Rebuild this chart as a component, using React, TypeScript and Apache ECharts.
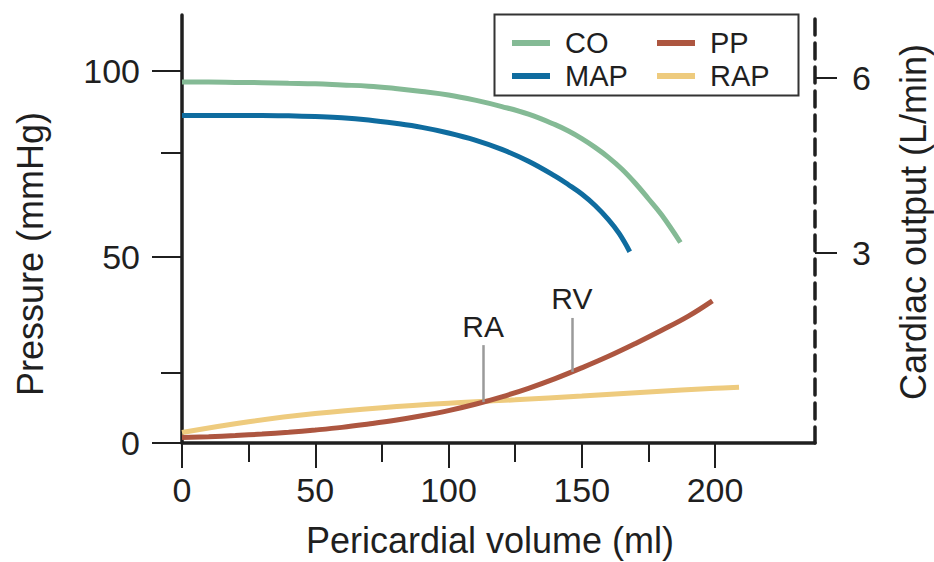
import React, { useEffect, useRef } from "react";
import * as echarts from "echarts";

// ---- data ----
const coVolume = [0, 10, 20, 30, 40, 50, 60, 70, 80, 90, 100, 110, 120, 130, 140, 145, 150, 155, 160, 165, 170, 175, 180, 187];
const coValues = [5.93, 5.93, 5.925, 5.92, 5.91, 5.9, 5.88, 5.86, 5.82, 5.77, 5.71, 5.62, 5.51, 5.38, 5.2, 5.09, 4.96, 4.81, 4.64, 4.44, 4.2, 3.93, 3.65, 3.18]; // L/min

const mapVolume = [0, 10, 20, 30, 40, 50, 60, 70, 80, 90, 100, 110, 120, 130, 140, 145, 150, 155, 160, 164, 168];
const mapValues = [88, 88, 88, 88, 87.9, 87.7, 87.4, 86.8, 85.9, 84.8, 83.3, 81.4, 78.9, 75.7, 71.7, 69.4, 66.9, 63.8, 60.0, 56.3, 51.4]; // mmHg

const ppVolume = [0, 10, 20, 30, 40, 50, 60, 70, 80, 90, 100, 110, 120, 130, 140, 150, 160, 170, 180, 190, 199];
const ppValues = [1.5, 1.7, 2.0, 2.4, 2.9, 3.5, 4.2, 5.1, 6.1, 7.3, 8.7, 10.4, 12.4, 14.7, 17.3, 20.2, 23.3, 26.7, 30.3, 34.1, 38.2];

const rapVolume = [0, 25, 50, 75, 100, 125, 150, 175, 200, 209];
const rapValues = [2.8, 5.7, 7.9, 9.5, 10.7, 11.6, 12.6, 13.7, 14.7, 15.0];

const xMajorTicks = [0, 50, 100, 150, 200];
const xMinorTicks = [25, 75, 125, 175];
const yMajorTicks = [0, 50, 100];
const yMinorTicks = [19, 78];
const coTicks = [3, 6];

// annotations: [label, volume, bottom value, top value]
const markers: [string, number, number, number][] = [
  ["RA", 113, 11.0, 26.3],
  ["RV", 146.3, 19.1, 33.6],
];

const X_MAX = 237.5;
const Y_MAX = 115;
const CO_MIN = -0.257;
const CO_MAX = 7.08;

const FONT = '"Liberation Sans", Arial, Helvetica, sans-serif';
const INK = "#1f1f1f";

const pairs = (xs: number[], ys: number[]) => xs.map((x, i) => [x, ys[i]]);

export default function App() {
  const ref = useRef<HTMLDivElement>(null);
  useEffect(() => {
    if (!ref.current) return;
    const chart = echarts.init(ref.current, null, { renderer: "svg" });
    const lineBase = {
      type: "line" as const,
      showSymbol: false,
      smooth: 0.4,
      xAxisIndex: 0,
    };
    chart.setOption({
      animation: false,
      backgroundColor: "#ffffff",
      textStyle: { fontFamily: FONT },
      grid: { left: 182, right: 119, top: 15, bottom: 119, containLabel: false, outerBoundsMode: "none" },
      legend: [
        {
          data: ["CO", "MAP"],
          orient: "vertical",
          left: 507,
          top: 23,
          icon: "rect",
          itemWidth: 38,
          itemHeight: 6,
          itemGap: 3,
          selectedMode: false,
          textStyle: { fontSize: 29, color: INK, fontFamily: FONT, lineHeight: 30, padding: [0, 0, 0, 10] },
        },
        {
          data: ["PP", "RAP"],
          orient: "vertical",
          left: 652,
          top: 23,
          icon: "rect",
          itemWidth: 38,
          itemHeight: 6,
          itemGap: 3,
          selectedMode: false,
          textStyle: { fontSize: 29, color: INK, fontFamily: FONT, lineHeight: 30, padding: [0, 0, 0, 10] },
        },
      ],
      graphic: [
        {
          type: "rect",
          left: 492,
          top: 12,
          shape: { width: 304, height: 81 },
          style: { fill: "none", stroke: "#333", lineWidth: 2 },
          silent: true,
        },
      ],
      xAxis: [
        {
          type: "value",
          min: 0,
          max: X_MAX,
          position: "bottom",
          axisLine: { show: true, onZero: false, lineStyle: { color: INK, width: 3.5 } },
          axisTick: { show: true, inside: false, length: 25, customValues: xMajorTicks, lineStyle: { color: INK, width: 2 } },
          axisLabel: { show: true, customValues: xMajorTicks, fontSize: 34, color: INK, margin: 30, fontFamily: FONT },
          splitLine: { show: false },
          name: "Pericardial volume (ml)",
          nameLocation: "middle",
          nameGap: 79,
          nameTextStyle: { fontSize: 36, color: INK, fontFamily: FONT, padding: [0, 17, 0, 0] },
        },
        {
          type: "value",
          min: 0,
          max: X_MAX,
          position: "bottom",
          axisLine: { show: false },
          axisTick: { show: true, inside: false, length: 19, customValues: xMinorTicks, lineStyle: { color: INK, width: 2 } },
          axisLabel: { show: false },
          splitLine: { show: false },
        },
      ],
      yAxis: [
        {
          type: "value",
          min: 0,
          max: Y_MAX,
          position: "left",
          axisLine: { show: true, onZero: false, lineStyle: { color: INK, width: 3.5 } },
          axisTick: { show: true, inside: false, length: 30, customValues: yMajorTicks, lineStyle: { color: INK, width: 2 } },
          axisLabel: { show: true, customValues: yMajorTicks, fontSize: 34, color: INK, margin: 42, fontFamily: FONT },
          splitLine: { show: false },
          name: "Pressure (mmHg)",
          nameLocation: "middle",
          nameRotate: 90,
          nameGap: 134,
          nameTextStyle: { fontSize: 36, color: INK, fontFamily: FONT, padding: [0, 50, 0, 0] },
        },
        {
          type: "value",
          min: CO_MIN,
          max: CO_MAX,
          position: "right",
          axisLine: { show: true, onZero: false, lineStyle: { color: INK, width: 3.5, type: [16, 8] } },
          axisTick: { show: true, inside: false, length: 22, customValues: coTicks, lineStyle: { color: INK, width: 2 } },
          axisLabel: { show: true, customValues: coTicks, fontSize: 34, color: INK, margin: 37, fontFamily: FONT },
          splitLine: { show: false },
          name: "Cardiac output (L/min)",
          nameLocation: "middle",
          nameRotate: 90,
          nameGap: 80,
          nameTextStyle: { fontSize: 36, color: INK, fontFamily: FONT, padding: [0, 0, 0, 14] },
        },
        {
          type: "value",
          min: 0,
          max: Y_MAX,
          position: "left",
          axisLine: { show: false },
          axisTick: { show: true, inside: false, length: 21, customValues: yMinorTicks, lineStyle: { color: INK, width: 2 } },
          axisLabel: { show: false },
          splitLine: { show: false },
        },
      ],
      series: [
        {
          ...lineBase,
          name: "CO",
          yAxisIndex: 1,
          data: pairs(coVolume, coValues),
          itemStyle: { color: "#84ba95" },
          lineStyle: { color: "#84ba95", width: 5 },
        },
        {
          ...lineBase,
          name: "MAP",
          yAxisIndex: 0,
          data: pairs(mapVolume, mapValues),
          itemStyle: { color: "#0f6c9f" },
          lineStyle: { color: "#0f6c9f", width: 5 },
        },
        {
          ...lineBase,
          name: "RAP",
          yAxisIndex: 0,
          data: pairs(rapVolume, rapValues),
          itemStyle: { color: "#eecb7e" },
          lineStyle: { color: "#eecb7e", width: 5 },
        },
        {
          ...lineBase,
          name: "PP",
          yAxisIndex: 0,
          data: pairs(ppVolume, ppValues),
          itemStyle: { color: "#ad5640" },
          lineStyle: { color: "#ad5640", width: 5 },
          z: 3,
          markLine: {
            silent: true,
            symbol: "none",
            animation: false,
            lineStyle: { color: "#9a9a9a", width: 2.5, type: "solid" },
            label: { show: true, position: "end", fontSize: 30, color: INK, fontFamily: FONT, distance: 4 },
            data: markers.map(([label, v, lo, hi]) => [
              { coord: [v, lo], name: label, label: { formatter: label } },
              { coord: [v, hi] },
            ]),
          },
        },
      ],
    });
    return () => chart.dispose();
  }, []);
  return (
    <div
      ref={ref}
      style={{ position: "fixed", left: 0, top: 0, width: 934, height: 562, background: "#fff" }}
    />
  );
}
